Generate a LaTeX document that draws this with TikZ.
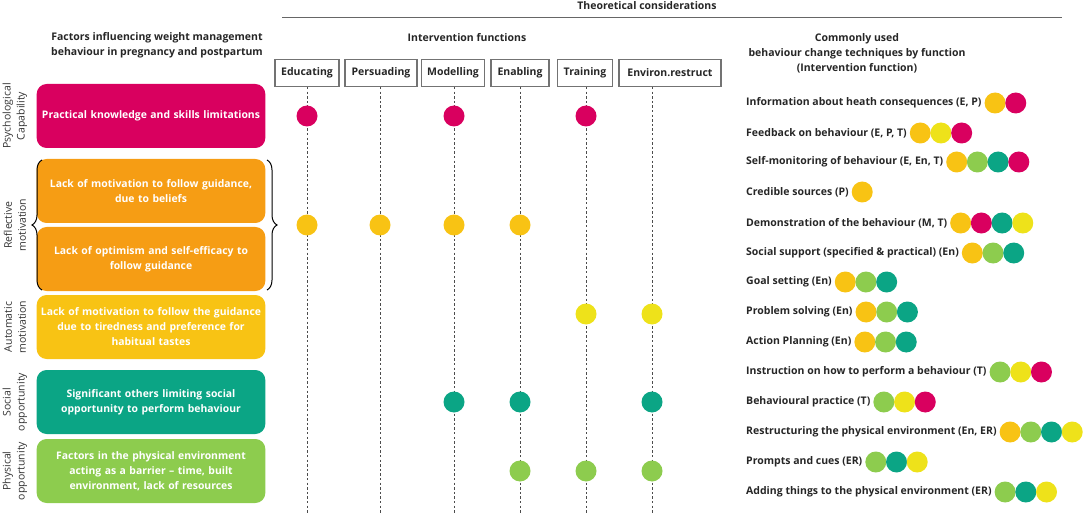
\documentclass[tikz,border=0pt]{standalone}
\usepackage{fontspec}
\setmainfont{Open Sans}
\usetikzlibrary{positioning,decorations.pathreplacing}

\definecolor{cmag}{RGB}{217,0,95}
\definecolor{corange}{RGB}{246,157,20}
\definecolor{cgold}{RGB}{248,195,20}
\definecolor{cyel}{RGB}{238,226,26}
\definecolor{cteal}{RGB}{11,165,133}
\definecolor{cgrn}{RGB}{141,204,78}

\begin{document}
\begin{tikzpicture}[x=1pt,y=-1pt,
    head/.style={font=\fontsize{10.5}{15}\selectfont\bfseries,align=center,text=black!85,inner sep=0pt},
    fbox/.style={draw=black!55,line width=1.1pt,minimum height=27pt,inner sep=1pt,
      font=\fontsize{10.5}{12}\selectfont\bfseries,text=black!85},
    factor/.style={rounded corners=10pt,minimum width=224pt,minimum height=64pt,text width=222pt,
      align=center,text=white,font=\fontsize{10.4}{15}\selectfont\bfseries},
    side/.style={rotate=90,align=center,font=\fontsize{10.5}{14}\selectfont,text=black!80,inner sep=0pt},
    vline/.style={line width=1pt,black!70,dash pattern=on 2.3pt off 2.3pt},
    dot/.style={circle,minimum size=21pt,inner sep=0pt},
    tech/.style={anchor=west,inner sep=0pt,font=\fontsize{10.5}{12}\selectfont\bfseries,text=black!85},
    bracket/.style={decorate,decoration={brace,amplitude=10pt},line width=1pt}]
  \useasboundingbox (0,0) rectangle (1084,513);

  % headings
  \node[head] (theo) at (647,6) {Theoretical considerations};
  \coordinate (ruleL) at (282,18);
  \coordinate (ruleR) at (1062,18);
  \draw[black!60,line width=1pt] (ruleL) -- (ruleR);
  \node[head] (fact) at (157,45) {Factors influencing weight management\\behaviour in pregnancy and postpartum};
  \node[head] (intv) at (467,38) {Intervention functions};
  \node[head] (bcth) at (857,53) {Commonly used\\behaviour change techniques by function\\(Intervention function)};

  % factors
  \node[factor,fill=cmag] (f1) at (151,116) {Practical knowledge and skills limitations};
  \node[factor,fill=corange] (f2) at (151,191) {Lack of motivation to follow guidance,\\due to beliefs};
  \node[factor,fill=corange] (f3) at (151,259) {Lack of optimism and self-efficacy to\\follow guidance};
  \node[factor,fill=cgold] (f4) at (151,327) {Lack of motivation to follow the guidance\\due to tiredness and preference for\\habitual tastes};
  \node[factor,fill=cteal] (f5) at (151,402) {Significant others limiting social\\opportunity to perform behaviour};
  \node[factor,fill=cgrn] (f6) at (151,471) {Factors in the physical environment\\acting as a barrier -- time, built\\environment, lack of resources};

  \node[side] (s1) at (15,116) {Psychological\\Capability};
  \node[side] (s2) at (15,225) {Reflective\\motivation};
  \node[side] (s3) at (15,327) {Automatic\\motivation};
  \node[side] (s4) at (15,402) {Social\\opportunity};
  \node[side] (s5) at (15,471) {Physical\\opportunity};

  \coordinate (lbA) at (42,290);
  \coordinate (lbB) at (42,160);
  \coordinate (rbA) at (267,160);
  \coordinate (rbB) at (267,290);
  \draw[bracket] (lbA) -- (lbB);
  \draw[bracket] (rbA) -- (rbB);

  % intervention functions
  \foreach \nm/\lx/\bx/\bw/\txt in {educ/307/307/64/Educating,pers/380/381/72/Persuading,
      mode/454/453/63/Modelling,enab/520/520/58/Enabling,trai/586/585/55/Training,
      envr/652/670/102/Environ.restruct}{
    \node[fbox,minimum width=\bw] (\nm) at (\bx,73) {\txt};
    \coordinate (\nm bot) at (\lx,513);
    \draw[vline] (\nm.south -| \nm bot) -- (\nm bot);
  }

  \foreach \nm in {educ,mode,trai}
    \node[dot,fill=cmag] (r1\nm) at (\nm bot |- 0,116) {};
  \foreach \nm in {educ,pers,mode,enab}
    \node[dot,fill=cgold] (r2\nm) at (\nm bot |- 0,225) {};
  \foreach \nm in {trai,envr}
    \node[dot,fill=cyel] (r3\nm) at (\nm bot |- 0,314) {};
  \foreach \nm in {mode,enab,envr}
    \node[dot,fill=cteal] (r4\nm) at (\nm bot |- 0,402) {};
  \foreach \nm in {enab,trai,envr}
    \node[dot,fill=cgrn] (r5\nm) at (\nm bot |- 0,471) {};

  % behaviour change techniques
  \foreach \y/\txt/\cols [count=\r] in {
      103/{Information about heath consequences (E, P)}/{cgold,cmag},
      133/{Feedback on behaviour (E, P, T)}/{cgold,cyel,cmag},
      162/{Self-monitoring of behaviour (E, En, T)}/{cgold,cgrn,cteal,cmag},
      192/{Credible sources (P)}/{cgold},
      223/{Demonstration of the behaviour (M, T)}/{cgold,cmag,cteal,cyel},
      253/{Social support (specified \& practical) (En)}/{cgold,cgrn,cteal},
      282/{Goal setting (En)}/{cgold,cgrn,cteal},
      312/{Problem solving (En)}/{cgold,cgrn,cteal},
      342/{Action Planning (En)}/{cgold,cgrn,cteal},
      372/{Instruction on how to perform a behaviour (T)}/{cgrn,cyel,cmag},
      402/{Behavioural practice (T)}/{cgrn,cyel,cmag},
      432/{Restructuring the physical environment (En, ER)}/{cgold,cgrn,cteal,cyel},
      462/{Prompts and cues (ER)}/{cgrn,cteal,cyel},
      492/{Adding things to the physical environment (ER)}/{cgrn,cteal,cyel}}{
    \node[tech] (bct\r) at (746,\y) {\txt};
    \foreach \c [count=\i] in \cols
      \node[dot,fill=\c] (bct\r-\i) at ([xshift={\i*20.7-7.4}]bct\r.east) {};
  }
\end{tikzpicture}
\end{document}
